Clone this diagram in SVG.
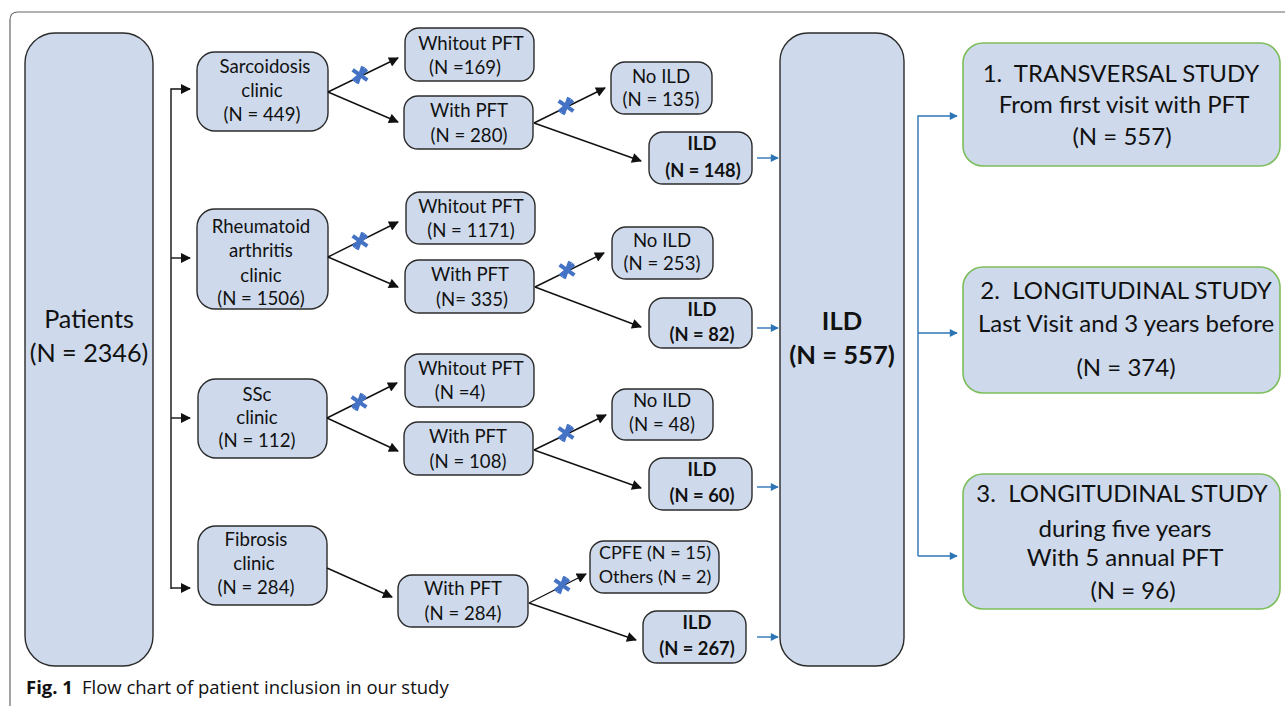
<svg xmlns="http://www.w3.org/2000/svg" width="1285" height="706" viewBox="0 0 1285 706">
<style>
.box{fill:#CEDAEC;stroke:#2b2b2b;stroke-width:1.4}
.gbox{fill:#CEDAEC;stroke:#7DBD5B;stroke-width:1.6}
text{font-family:Lato,"Open Sans","Liberation Sans",sans-serif;fill:#111;text-anchor:middle}
.t{font-size:18.6px}
.s{font-size:18px}
.b{font-size:18.3px;font-weight:bold}
.big{font-size:25.2px}
.bigb{font-size:25.6px;font-weight:bold}
.g{font-size:24px}
.cap{font-family:"Open Sans","Liberation Sans",sans-serif;text-anchor:start;font-size:18.5px}
.k{stroke:#111;stroke-width:1.4;fill:none}
.bl{stroke:#2E75B6;stroke-width:1.4;fill:none}
.ast{stroke:#4472C4;stroke-width:4;stroke-linecap:butt}
</style>
<defs>
<marker id="ak" viewBox="0 0 10 10" refX="9" refY="5" markerWidth="11" markerHeight="10" markerUnits="userSpaceOnUse" orient="auto"><path d="M0,0 L10,5 L0,10 z" fill="#111"/></marker>
<marker id="ab" viewBox="0 0 10 10" refX="9" refY="5" markerWidth="9" markerHeight="8" markerUnits="userSpaceOnUse" orient="auto"><path d="M0,0 L10,5 L0,10 z" fill="#2E75B6"/></marker>
<g id="star"><line class="ast" x1="0" y1="-9" x2="0" y2="9" transform="rotate(20)"/><line class="ast" x1="-9" y1="0" x2="9" y2="0" transform="rotate(-40)"/><line class="ast" x1="-9" y1="0" x2="9" y2="0" transform="rotate(35)"/></g>
</defs>
<path d="M10,706 L10,20 Q10,12 18,12 L1285,12" fill="none" stroke="#666" stroke-width="1.2"/>

<g id="patients"><rect class="box" x="25" y="33" width="128" height="633" rx="30"/><text class="big" x="89" y="328">Patients</text><text class="big" x="89" y="362">(N = 2346)</text></g>

<g id="sarc"><rect class="box" x="197" y="52" width="131" height="79" rx="18"/><text class="t" x="265" y="73">Sarcoidosis</text><text class="t" x="262" y="97">clinic</text><text class="t" x="262" y="121">(N = 449)</text></g>
<g id="ra"><rect class="box" x="197" y="209" width="131" height="100" rx="18"/><text class="t" x="261" y="233">Rheumatoid</text><text class="t" x="261" y="257">arthritis</text><text class="t" x="261" y="282">clinic</text><text class="t" x="261" y="305">(N = 1506)</text></g>
<g id="ssc"><rect class="box" x="198" y="379" width="129" height="79" rx="18"/><text class="t" x="257" y="401">SSc</text><text class="t" x="257" y="424">clinic</text><text class="t" x="257" y="447">(N = 112)</text></g>
<g id="fib"><rect class="box" x="198" y="526" width="129" height="79" rx="18"/><text class="t" x="256" y="546">Fibrosis</text><text class="t" x="254" y="570">clinic</text><text class="t" x="256" y="594">(N = 284)</text></g>

<g id="wo169"><rect class="box" x="405" y="28" width="129" height="53" rx="14"/><text class="t" x="471" y="50">Whitout PFT</text><text class="t" x="465" y="74">(N =169)</text></g>
<g id="w280"><rect class="box" x="404" y="96" width="129" height="53" rx="14"/><text class="t" x="469" y="117">With PFT</text><text class="t" x="469" y="142">(N = 280)</text></g>
<g id="wo1171"><rect class="box" x="406" y="192" width="129" height="52" rx="14"/><text class="t" x="471" y="213">Whitout PFT</text><text class="t" x="471" y="237">(N = 1171)</text></g>
<g id="w335"><rect class="box" x="405" y="260" width="129" height="53" rx="14"/><text class="t" x="470" y="281">With PFT</text><text class="t" x="472" y="306">(N= 335)</text></g>
<g id="wo4"><rect class="box" x="405" y="354" width="129" height="53" rx="14"/><text class="t" x="471" y="375">Whitout PFT</text><text class="t" x="460" y="399">(N =4)</text></g>
<g id="w108"><rect class="box" x="404" y="422" width="129" height="53" rx="14"/><text class="t" x="468" y="443">With PFT</text><text class="t" x="468" y="468">(N = 108)</text></g>
<g id="w284"><rect class="box" x="398" y="575" width="130" height="52" rx="14"/><text class="t" x="463" y="595">With PFT</text><text class="t" x="463" y="620">(N = 284)</text></g>

<g id="noild135"><rect class="box" x="611" y="62" width="101" height="52" rx="14"/><text class="t" x="661" y="83">No ILD</text><text class="t" x="661" y="106">(N = 135)</text></g>
<g id="ild148"><rect class="box" x="649" y="132" width="103" height="52" rx="14"/><text class="b" x="702" y="150">ILD</text><text class="b" x="703" y="177">(N = 148)</text></g>
<g id="noild253"><rect class="box" x="612" y="227" width="101" height="52" rx="14"/><text class="t" x="662" y="247">No ILD</text><text class="t" x="662" y="270">(N = 253)</text></g>
<g id="ild82"><rect class="box" x="649" y="298" width="103" height="50" rx="14"/><text class="b" x="702" y="316">ILD</text><text class="b" x="702" y="341">(N = 82)</text></g>
<g id="noild48"><rect class="box" x="612" y="389" width="101" height="51" rx="14"/><text class="t" x="662" y="407">No ILD</text><text class="t" x="662" y="431">(N = 48)</text></g>
<g id="ild60"><rect class="box" x="649" y="458" width="103" height="52" rx="14"/><text class="b" x="702" y="476">ILD</text><text class="b" x="702" y="502">(N = 60)</text></g>
<g id="cpfe"><rect class="box" x="590" y="541" width="129" height="52" rx="14"/><text class="s" x="655" y="559">CPFE (N = 15)</text><text class="s" x="655" y="583">Others (N = 2)</text></g>
<g id="ild267"><rect class="box" x="643" y="611" width="103" height="52" rx="14"/><text class="b" x="697" y="629">ILD</text><text class="b" x="697" y="655">(N = 267)</text></g>

<g id="ild557"><rect class="box" x="780" y="33" width="124" height="633" rx="28"/><text class="bigb" x="842" y="330">ILD</text><text class="bigb" x="842" y="364">(N = 557)</text></g>

<g id="study1"><rect class="gbox" x="963" y="43" width="317" height="123" rx="20"/><text class="g" x="1121" y="82">1.&#160; TRANSVERSAL STUDY</text><text class="g" x="1124" y="113">From first visit with PFT</text><text class="g" x="1122" y="145">(N = 557)</text></g>
<g id="study2"><rect class="gbox" x="963" y="267" width="317" height="126" rx="20"/><text class="g" x="1126" y="299">2.&#160; LONGITUDINAL STUDY</text><text class="g" x="1126" y="332">Last Visit and 3 years before</text><text class="g" x="1126" y="376">(N = 374)</text></g>
<g id="study3"><rect class="gbox" x="963" y="474" width="317" height="135" rx="20"/><text class="g" x="1122" y="502">3.&#160; LONGITUDINAL STUDY</text><text class="g" x="1125" y="537">during five years</text><text class="g" x="1125" y="566">With 5 annual PFT</text><text class="g" x="1133" y="599">(N = 96)</text></g>

<g id="connectors">
<path class="k" d="M171,589 L171,89 L190,89" marker-end="url(#ak)"/>
<path class="k" d="M171,258 L190,258" marker-end="url(#ak)"/>
<path class="k" d="M171,418 L190,418" marker-end="url(#ak)"/>
<path class="k" d="M171,588 L190,588" marker-end="url(#ak)"/>

<path class="k" d="M328,92 L398,58" marker-end="url(#ak)"/>
<path class="k" d="M328,92 L398,122" marker-end="url(#ak)"/>
<path class="k" d="M534,123 L605,88" marker-end="url(#ak)"/>
<path class="k" d="M534,123 L641,161" marker-end="url(#ak)"/>

<path class="k" d="M328,257 L398,222" marker-end="url(#ak)"/>
<path class="k" d="M328,257 L398,287" marker-end="url(#ak)"/>
<path class="k" d="M535,287 L604,253" marker-end="url(#ak)"/>
<path class="k" d="M535,287 L641,327" marker-end="url(#ak)"/>

<path class="k" d="M327,418 L397,383" marker-end="url(#ak)"/>
<path class="k" d="M327,418 L398,451" marker-end="url(#ak)"/>
<path class="k" d="M534,450 L606,415" marker-end="url(#ak)"/>
<path class="k" d="M534,450 L641,488" marker-end="url(#ak)"/>

<path class="k" d="M327,568 L392,597" marker-end="url(#ak)"/>
<path class="k" d="M529,603 L586,574" marker-end="url(#ak)"/>
<path class="k" d="M529,603 L636,640" marker-end="url(#ak)"/>

<path class="bl" d="M757,158 L778,158" marker-end="url(#ab)"/>
<path class="bl" d="M757,328 L778,328" marker-end="url(#ab)"/>
<path class="bl" d="M757,487 L778,487" marker-end="url(#ab)"/>
<path class="bl" d="M757,637 L778,637" marker-end="url(#ab)"/>

<path class="bl" d="M918,556 L918,116 L957,116" marker-end="url(#ab)"/>
<path class="bl" d="M918,333 L957,333" marker-end="url(#ab)"/>
<path class="bl" d="M918,556 L957,556" marker-end="url(#ab)"/>

<use href="#star" x="360" y="75"/>
<use href="#star" x="566" y="106"/>
<use href="#star" x="360" y="241"/>
<use href="#star" x="567" y="270"/>
<use href="#star" x="359" y="402"/>
<use href="#star" x="566" y="433"/>
<use href="#star" x="562" y="585"/>
</g>

<text class="cap" x="26" y="694"><tspan font-weight="bold">Fig. 1</tspan><tspan dx="9">Flow chart of patient inclusion in our study</tspan></text>
</svg>
